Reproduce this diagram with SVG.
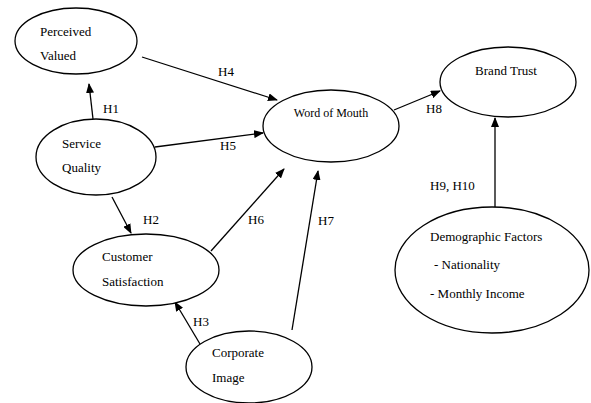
<svg xmlns="http://www.w3.org/2000/svg" width="591" height="403" viewBox="0 0 591 403">
<style>
.n{fill:#fff;stroke:#000;stroke-width:1.3}
.c line{stroke:#000;stroke-width:1.3;marker-end:url(#a)}
</style>
<defs>
<marker id="a" markerWidth="10" markerHeight="8" refX="9" refY="4" orient="auto" markerUnits="userSpaceOnUse">
<path d="M0,0 L10,4 L0,8 z" fill="#000"/>
</marker>
</defs>
<rect width="591" height="403" fill="#fff"/>
<g font-family="Liberation Serif, Times New Roman, serif" font-size="13" fill="#000">
<g class="c" id="connectors">
<line x1="93" y1="119" x2="89" y2="84"/>
<line x1="142" y1="57" x2="277" y2="100"/>
<line x1="155" y1="147" x2="263" y2="133"/>
<line x1="112" y1="197" x2="131" y2="233"/>
<line x1="211" y1="251" x2="284" y2="169"/>
<line x1="200" y1="344" x2="175" y2="302"/>
<line x1="292" y1="330" x2="318" y2="171"/>
<line x1="394" y1="110" x2="440" y2="91"/>
<line x1="495" y1="207" x2="495" y2="118"/>
<text x="103" y="113">H1</text>
<text x="218" y="76">H4</text>
<text x="220" y="150">H5</text>
<text x="143" y="224">H2</text>
<text x="248" y="224">H6</text>
<text x="193" y="326">H3</text>
<text x="318" y="225">H7</text>
<text x="426" y="113">H8</text>
<text x="430" y="190">H9, H10</text>
</g>
<g id="perceived">
<ellipse class="n" cx="76" cy="41" rx="61" ry="33"/>
<text x="40" y="36">Perceived</text>
<text x="40" y="60">Valued</text>
</g>
<g id="service">
<ellipse class="n" cx="96" cy="157" rx="60" ry="38"/>
<text x="62" y="148">Service</text>
<text x="62" y="172">Quality</text>
</g>
<g id="wom">
<ellipse class="n" cx="331" cy="126" rx="68" ry="36"/>
<text x="331" y="117" text-anchor="middle" font-size="12">Word of Mouth</text>
</g>
<g id="brand">
<ellipse class="n" cx="508" cy="82" rx="68" ry="35"/>
<text x="506" y="75" text-anchor="middle">Brand Trust</text>
</g>
<g id="customer">
<ellipse class="n" cx="146" cy="270" rx="73" ry="36"/>
<text x="102" y="261">Customer</text>
<text x="102" y="286">Satisfaction</text>
</g>
<g id="corporate">
<ellipse class="n" cx="249" cy="367" rx="63" ry="36"/>
<text x="212" y="357">Corporate</text>
<text x="212" y="382">Image</text>
</g>
<g id="demographic">
<ellipse class="n" cx="492" cy="270" rx="97" ry="63"/>
<text x="430" y="241">Demographic Factors</text>
<text x="434" y="269">- Nationality</text>
<text x="430" y="298">- Monthly Income</text>
</g>
</g>
</svg>
